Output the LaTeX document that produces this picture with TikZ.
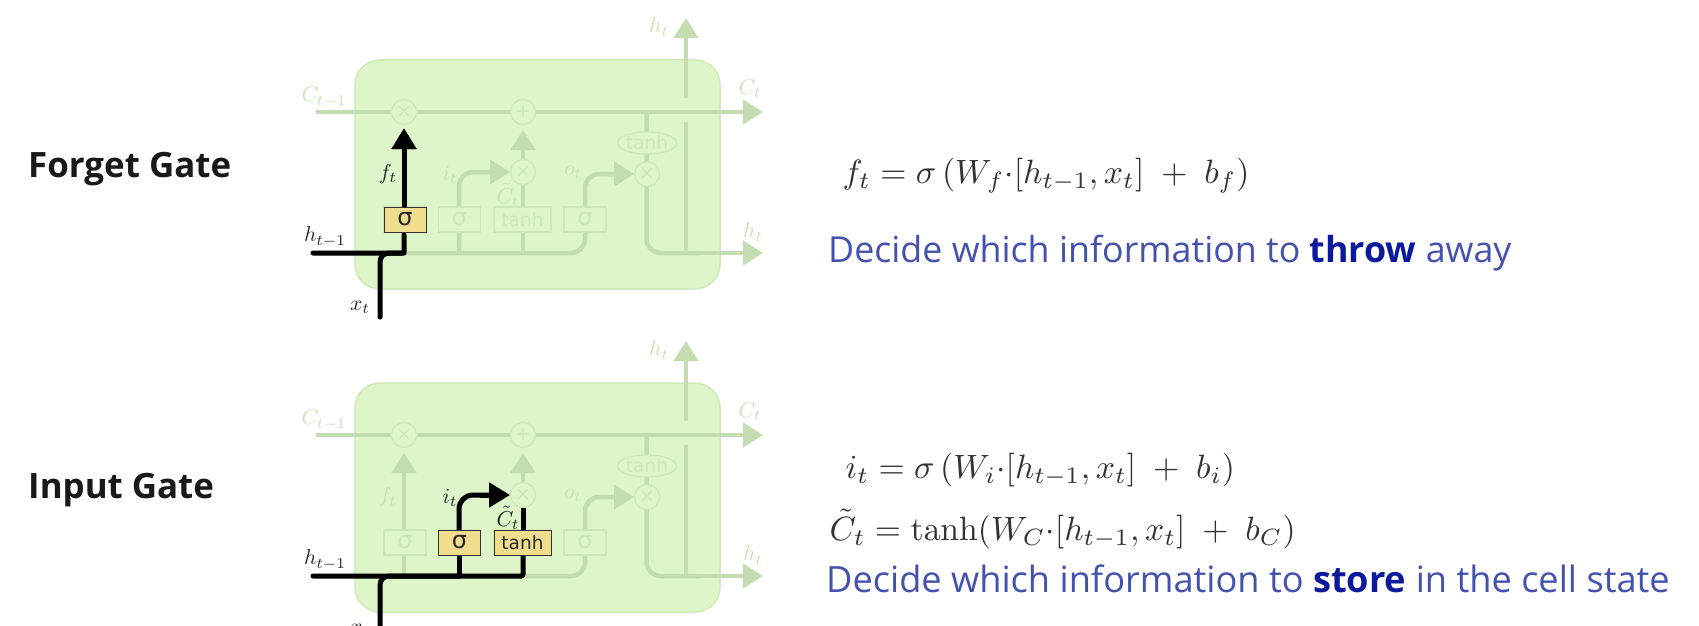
\documentclass[tikz,border=0pt]{standalone}
\usepackage[no-math]{fontspec}
\setmainfont{Open Sans}
\newfontfamily\symfont{DejaVu Sans}
\usetikzlibrary{arrows.meta,shapes.geometric}
\definecolor{cellfill}{HTML}{DDF5C8}
\definecolor{cellrim}{HTML}{CFEBB9}
\definecolor{fadeline}{HTML}{C3DDB0}
\definecolor{fadetext}{HTML}{C9E2B6}
\definecolor{fadeop}{HTML}{CFE8BB}
\definecolor{gateyellow}{HTML}{F0DE8E}
\definecolor{decideblue}{HTML}{4452AD}
\definecolor{strongblue}{HTML}{0B1A9C}
\tikzset{
  cellbody/.style={draw=cellrim,line width=1.5pt,fill=cellfill,rounded corners=25pt},
  fadeflow/.style={draw=fadeline,line width=4.5pt,rounded corners=14pt},
  fadearrow/.style={fadeflow,-{Triangle[length=20pt,width=24pt]}},
  hotflow/.style={draw=black,line width=5pt,rounded corners=9pt,line cap=round},
  hotarrow/.style={hotflow,line cap=butt,-{Triangle[length=21pt,width=24pt]}},
  opcircle/.style={circle,draw=fadeop,line width=1.2pt,fill=cellfill,minimum size=25pt,inner sep=0pt,text=fadeop,font=\symfont\fontsize{19}{19}\selectfont},
  fadegate/.style={rectangle,draw=fadeop,line width=1.2pt,fill=cellfill,minimum height=25pt,inner sep=0pt,text=fadeop,font=\symfont\fontsize{18.5}{19}\selectfont},
  hotgate/.style={rectangle,draw=black!80,line width=1pt,fill=gateyellow,minimum height=25pt,inner sep=0pt,text=black!85,font=\symfont\fontsize{18.5}{19}\selectfont},
  sgate/.style={minimum width=42pt,font=\symfont\fontsize{24}{24}\selectfont},
  tgate/.style={minimum width=57pt},
  fadeell/.style={ellipse,draw=fadeop,line width=1.2pt,fill=cellfill,minimum width=56pt,minimum height=22pt,inner sep=0pt,text=fadeop,font=\symfont\fontsize{18.5}{19}\selectfont},
  fadelabel/.style={text=fadetext,scale=2.15,inner sep=0pt},
  hotlabel/.style={text=black!85,scale=2.15,inner sep=0pt},
  gatetitle/.style={anchor=west,font=\fontsize{34.9}{35}\selectfont\bfseries,inner sep=0pt,text=black!90},
  formula/.style={anchor=west,scale=3.37,inner sep=0pt,text=black!80},
  decide/.style={anchor=west,font=\fontsize{35.8}{36}\selectfont,inner sep=0pt,text=decideblue},
}
\newcommand{\keyword}[1]{\textcolor{strongblue}{\textbf{#1}}}
% faded LSTM cell: #1 name prefix
\newcommand{\lstmcell}[1]{
  \node[cellbody,minimum width=365pt,minimum height=229pt,inner sep=0pt,rounded corners=25pt] (#1body) at (537.5,174.5) {};
  \coordinate (#1cin) at (316,112);
  \coordinate (#1cout) at (763,112);
  \coordinate (#1hin) at (313,253);
  \coordinate (#1hout) at (763,253);
  \coordinate (#1htop) at (686,18);
  \coordinate (#1hgapa) at (686,98);
  \coordinate (#1hgapb) at (686,122);
  \coordinate (#1hjoin) at (686,253);
  \coordinate (#1xin) at (380,317);
  \coordinate (#1fb) at (404,253);
  \coordinate (#1ib) at (459,253);
  \coordinate (#1tb) at (523,253);
  \coordinate (#1ob) at (585,253);
  \coordinate (#1ct) at (646.5,112);
  \draw[fadearrow] (#1cin) -- (#1cout);
  \draw[fadearrow] (#1hin) -- (#1ob) -- (585,174) -- (634,174);
  \draw[fadeflow] (#1ct) -- (646.5,253) -- (700,253);
  \draw[fadearrow] (680,253) -- (#1hout);
  \draw[fadearrow] (#1hgapa) -- (#1htop);
  \draw[fadeflow] (#1hgapb) -- (#1hjoin);
  \draw[fadearrow] (#1fb) -- (404,130);
  \draw[fadeflow] (#1ib) |- (500,172);
  \draw[fadearrow,rounded corners=0pt] (480,172) -- (510,172);
  \draw[fadeflow] (#1tb) -- (523,172);
  \draw[fadearrow] (523,172) -- (523,130);
  \node[opcircle] (#1xa) at (404,112) {×};
  \node[opcircle] (#1pl) at (523,112) {+};
  \node[opcircle] (#1xb) at (523,172) {×};
  \node[opcircle] (#1xc) at (647,174) {×};
  \node[fadeell] (#1el) at (647,143) {tanh};
  \node[fadegate,sgate] (#1sa) at (405,219.5) {σ};
  \node[fadegate,sgate] (#1sb) at (459.5,219.5) {σ};
  \node[fadegate,tgate] (#1th) at (522.5,219.5) {tanh};
  \node[fadegate,sgate] (#1sc) at (585,219.5) {σ};
  \node[fadelabel] (#1lc) at (324,97) {$C_{t-1}$};
  \node[fadelabel] (#1lco) at (750,89) {$C_t$};
  \node[fadelabel] (#1lht) at (659,27) {$h_t$};
  \node[fadelabel] (#1lho) at (753,232) {$h_t$};
  \node[fadelabel] (#1lf) at (388,174) {$f_t$};
  \node[fadelabel] (#1li) at (450,175) {$i_t$};
  \node[fadelabel] (#1lct) at (508,195) {$\tilde{C}_t$};
  \node[fadelabel] (#1lo) at (573,172) {$o_t$};
  \node[hotlabel] (#1lh) at (325,237) {$h_{t-1}$};
  \node[hotlabel] (#1lx) at (360,307) {$x_t$};
}
\begin{document}
\begin{tikzpicture}[x=1pt,y=-1pt]
\useasboundingbox (0,0) rectangle (1699,626);
\clip (0,0) rectangle (1699,626);
\fill[white] (0,0) rectangle (1699,626);

% Forget gate cell
\lstmcell{a}
\draw[hotflow,rounded corners=2pt] (ahin) -- (afb) -- (404,235);
\draw[hotflow] (axin) |- (afb);
\draw[hotarrow] (404,207) -- (404,128);
\node[hotgate,sgate] (asah) at (405,219.5) {σ};
\node[hotlabel] (alfh) at (388,174) {$f_t$};

% Input gate cell
\begin{scope}[yshift=-323pt]
\lstmcell{b}
\draw[hotflow,rounded corners=2pt] (bhin) -- (btb) -- (523,232);
\draw[hotflow] (bxin) |- (bib);
\draw[hotflow] (bib) -- (459,232);
\draw[hotflow,rounded corners=14pt,line cap=butt] (459,207) |- (490,172);
\draw[hotarrow,rounded corners=0pt] (480,172) -- (510,172);
\draw[hotflow,line cap=butt] (523,207) -- (523,185);
\node[hotgate,sgate] (bsbh) at (459.5,219.5) {σ};
\node[hotgate,tgate] (bthh) at (522.5,219.5) {tanh};
\node[hotlabel] (blih) at (450,175) {$i_t$};
\node[hotlabel] (blcth) at (508,195) {$\tilde{C}_t$};
\end{scope}

% Titles
\node[gatetitle] (forget) at (28,169) {Forget Gate};
\node[gatetitle] (input) at (28,490) {Input Gate};

% Formulas and captions
\node[formula] (eqf) at (842,176) {$f_t = \sigma\left(W_f{\cdot}[h_{t-1},x_t]\;+\;b_f\right)$};
\node[decide] (capf) at (828,253) {Decide which information to \keyword{throw} away};
\node[formula] (eqi) at (845,470) {$i_t = \sigma\left(W_i{\cdot}[h_{t-1},x_t]\;+\;b_i\right)$};
\node[formula] (eqc) at (829,529) {$\tilde{C}_t = \tanh(W_C{\cdot}[h_{t-1},x_t]\;+\;b_C)$};
\node[decide,font=\fontsize{36.2}{36}\selectfont] (capi) at (826,579) {Decide which information to \keyword{store} in the cell state};
\end{tikzpicture}
\end{document}
